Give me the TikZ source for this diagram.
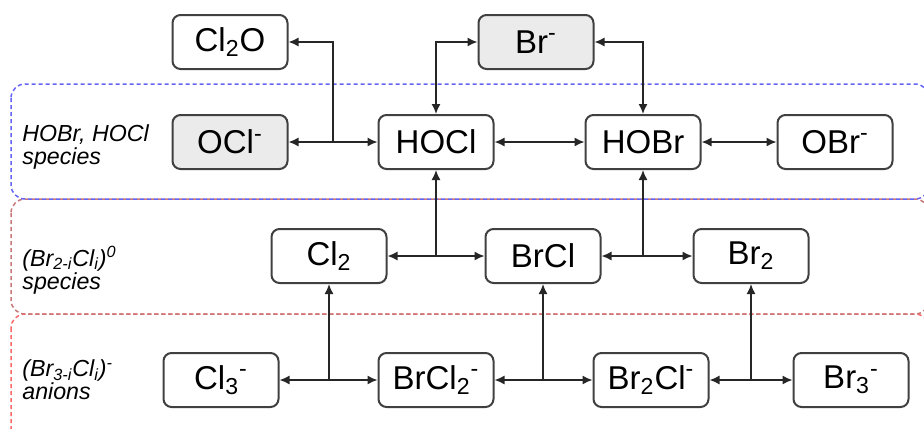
\documentclass[tikz,border=0pt]{standalone}
\usepackage{fontspec}
\setmainfont{Liberation Sans}
\usetikzlibrary{arrows.meta}

\definecolor{hoxblue}{RGB}{100,100,245}
\definecolor{neutred}{RGB}{200,120,120}
\definecolor{anired}{RGB}{250,105,105}

\tikzset{
    species/.style={draw=black!75, line width=1pt, rounded corners=4pt,
        minimum width=57.5pt, minimum height=27pt, inner sep=0pt,
        font=\fontsize{16.5}{18}\selectfont},
    ion/.style={species, fill=black!8},
    link/.style={draw=black!85, line width=0.75pt,
        arrows={-Latex[length=5pt,width=4.5pt]}},
    bilink/.style={link, arrows={Latex[length=5pt,width=4.5pt]-Latex[length=5pt,width=4.5pt]}},
    group/.style={line width=0.75pt, rounded corners=7pt, dash pattern=on 2pt off 1.5pt},
    grouplabel/.style={anchor=west, align=left, inner sep=0pt,
        font=\fontsize{11.6}{11.4}\selectfont\itshape}
}

\begin{document}
\begin{tikzpicture}[x=0.5pt, y=-0.5pt]
    \useasboundingbox (0,0) rectangle (924,428);
    % groups of species
    \draw[group, draw=anired] (11,314) rectangle (929,445);
    \draw[group, draw=neutred] (11,199) rectangle (929,314);
    \draw[group, draw=hoxblue] (11,84) rectangle (929,199);
    \node[grouplabel] (lblhox) at (22,147) {HOBr, HOCl\\species};
    \node[grouplabel] (lblneu) at (22,270) {(Br\textsubscript{2-i}Cl\textsubscript{i})\textsuperscript{0}\\species};
    \node[grouplabel] (lblani) at (22,380) {(Br\textsubscript{3-i}Cl\textsubscript{i})\textsuperscript{-}\\anions};

    % top row
    \node[species] (cl2o) at (230,42) {Cl\textsubscript{2}O};
    \node[ion] (br) at (536,42) {Br\textsuperscript{-}};
    % HOBr, HOCl row
    \node[ion] (ocl) at (230,142) {OCl\textsuperscript{-}};
    \node[species] (hocl) at (436,142) {HOCl};
    \node[species] (hobr) at (643,142) {HOBr};
    \node[species] (obr) at (835,142) {OBr\textsuperscript{-}};
    % neutral row
    \node[species] (cl2) at (329,256) {Cl\textsubscript{2}};
    \node[species] (brcl) at (543,256) {BrCl};
    \node[species] (br2) at (751,256) {Br\textsubscript{2}};
    % anions row
    \node[species] (cl3) at (221,380) {Cl\textsubscript{3}\textsuperscript{-}};
    \node[species] (brcl2) at (436,380) {BrCl\textsubscript{2}\textsuperscript{-}};
    \node[species] (br2cl) at (651,380) {Br\textsubscript{2}Cl\textsuperscript{-}};
    \node[species] (br3) at (851,380) {Br\textsubscript{3}\textsuperscript{-}};

    % junctions
    \coordinate (jox) at (333,142);
    \coordinate (jhocl) at (hocl.south |- cl2);
    \coordinate (jhobr) at (hobr.south |- brcl);
    \coordinate (jcl2) at (cl2.south |- cl3);
    \coordinate (jbrcl) at (brcl.south |- brcl2);
    \coordinate (jbr2) at (br2.south |- br2cl);

    \draw[bilink] (ocl) -- (hocl);
    \draw[link] (jox) |- (cl2o.east);
    \draw[bilink] (hocl.north) |- (br.west);
    \draw[bilink] (hobr.north) |- (br.east);
    \draw[bilink] (hocl) -- (hobr);
    \draw[bilink] (hobr) -- (obr);

    \draw[bilink] (cl2) -- (brcl);
    \draw[link] (jhocl) -- (hocl.south);
    \draw[bilink] (brcl) -- (br2);
    \draw[link] (jhobr) -- (hobr.south);

    \draw[bilink] (cl3) -- (brcl2);
    \draw[link] (jcl2) -- (cl2.south);
    \draw[bilink] (brcl2) -- (br2cl);
    \draw[link] (jbrcl) -- (brcl.south);
    \draw[bilink] (br2cl) -- (br3);
    \draw[link] (jbr2) -- (br2.south);
\end{tikzpicture}
\end{document}
